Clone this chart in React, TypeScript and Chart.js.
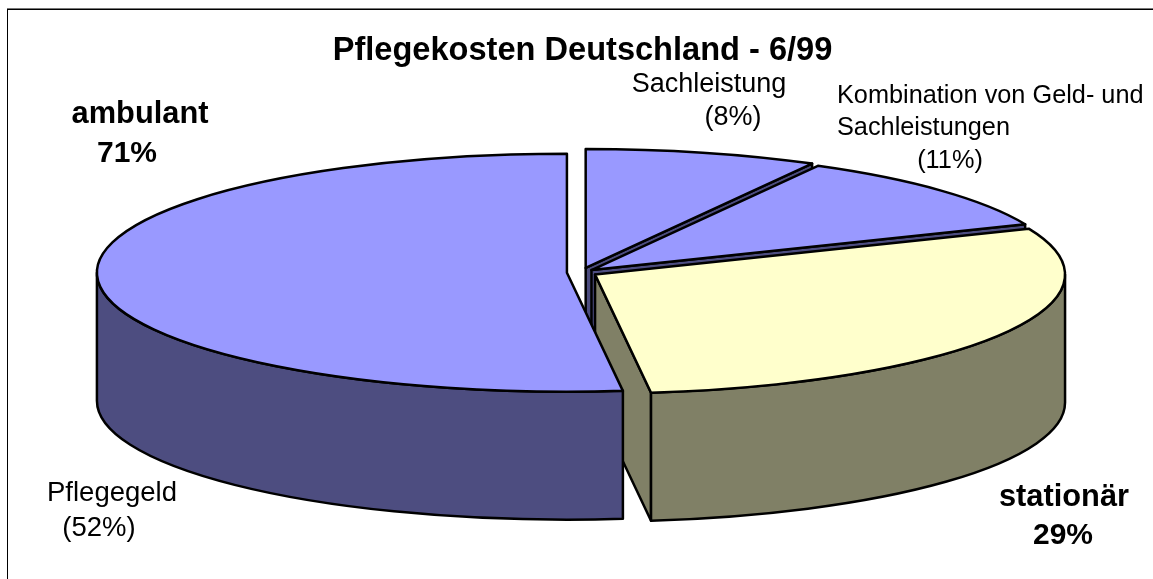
import React, { useEffect, useRef } from "react";
import { Chart, registerables } from "chart.js";

Chart.register(...registerables);

const categories = ["Sachleistung", "Kombination von Geld- und Sachleistungen", "stationär", "Pflegegeld"];
const shares = [8, 10.7, 29.4, 51.9];
const explodeOffsets = [4, 3, 3.46, 3];
const topColors = ["#9999FF", "#9999FF", "#FFFFCC", "#9999FF"];
const wallColors = ["#4D4D80", "#4D4D80", "#808066", "#4D4D80"];
const titleText = "Pflegekosten Deutschland - 6/99";

const FONT = '"Liberation Sans", Arial, sans-serif';
const VIEW = { cx: 581, cy: 272.5, rx: 470, ry: 119, depth: 128 };

const annotations = [
  { lines: ["Sachleistung"], x: 709, y: 85, lh: 33, bold: false, size: 27 },
  { lines: ["(8%)"], x: 733, y: 118, lh: 33, bold: false, size: 27 },
  { lines: ["Kombination von Geld- und"], x: 837, y: 96, lh: 32, bold: false, size: 25.3, align: "left" },
  { lines: ["Sachleistungen"], x: 837, y: 128, lh: 32, bold: false, size: 25.3, align: "left" },
  { lines: ["(11%)"], x: 950, y: 161, lh: 32, bold: false, size: 25.3 },
  { lines: ["ambulant"], x: 140, y: 115, lh: 39, bold: true, size: 30.8 },
  { lines: ["71%"], x: 127, y: 154, lh: 39, bold: true, size: 30 },
  { lines: ["Pflegegeld"], x: 112, y: 493, lh: 35, bold: false, size: 27.5 },
  { lines: ["(52%)"], x: 99, y: 528, lh: 35, bold: false, size: 27.5 },
  { lines: ["stationär"], x: 1064, y: 498, lh: 38, bold: true, size: 30.8 },
  { lines: ["29%"], x: 1063, y: 536, lh: 38, bold: true, size: 30 },
];

const pie3d = {
  id: "pie3d",
  beforeDatasetsDraw(chart: any) {
    const ctx = chart.ctx;
    const arcs = chart.getDatasetMeta(0).data;
    const { rx, ry, depth } = VIEW;
    ctx.save();
    ctx.lineWidth = 2.5;
    ctx.lineJoin = "round";
    ctx.strokeStyle = "#000";
    arcs.forEach((arc: any, i: number) => {
      const a0 = arc.startAngle;
      const a1 = arc.endAngle;
      const mid = (a0 + a1) / 2;
      const frac = arc.options.offset / 100;
      const cx = VIEW.cx + Math.cos(mid) * frac * rx;
      const cy = VIEW.cy + Math.sin(mid) * frac * ry;
      const px = (a: number) => cx + rx * Math.cos(a);
      const py = (a: number) => cy + ry * Math.sin(a);
      ctx.fillStyle = wallColors[i];
      const face = (a: number) => {
        ctx.beginPath();
        ctx.moveTo(cx, cy);
        ctx.lineTo(px(a), py(a));
        ctx.lineTo(px(a), py(a) + depth);
        ctx.lineTo(cx, cy + depth);
        ctx.closePath();
        ctx.fill();
        ctx.stroke();
      };
      if (Math.cos(a1) > 1e-6) face(a1);
      if (-Math.cos(a0) > 1e-6) face(a0);
      const TAU = Math.PI * 2;
      for (const [lo, hi] of [[0, Math.PI], [TAU, TAU + Math.PI], [-TAU, -Math.PI]]) {
        const s = Math.max(a0, lo);
        const e = Math.min(a1, hi);
        if (e > s) {
          ctx.beginPath();
          ctx.ellipse(cx, cy, rx, ry, 0, s, e);
          ctx.lineTo(px(e), py(e) + depth);
          ctx.ellipse(cx, cy + depth, rx, ry, 0, e, s, true);
          ctx.closePath();
          ctx.fill();
          ctx.stroke();
        }
      }
      ctx.fillStyle = topColors[i];
      ctx.beginPath();
      ctx.moveTo(cx, cy);
      ctx.ellipse(cx, cy, rx, ry, 0, a0, a1);
      ctx.closePath();
      ctx.fill();
      ctx.stroke();
    });
    ctx.restore();
    return false;
  },
  afterDraw(chart: any) {
    const ctx = chart.ctx;
    ctx.save();
    ctx.fillStyle = "#000";
    ctx.textBaseline = "middle";
    for (const a of annotations) {
      ctx.font = `${a.bold ? "bold " : ""}${a.size}px ${FONT}`;
      ctx.textAlign = (a.align || "center") as CanvasTextAlign;
      a.lines.forEach((t, k) => ctx.fillText(t, a.x, a.y + k * a.lh));
    }
    ctx.fillStyle = "#777";
    ctx.fillRect(7, 8, 1146, 1);
    ctx.fillStyle = "#000";
    ctx.fillRect(7, 9, 1146, 1);
    ctx.fillRect(7, 9, 1, 570);
    ctx.restore();
  },
};

export default function App() {
  const ref = useRef<HTMLCanvasElement>(null);
  useEffect(() => {
    const chart = new Chart(ref.current!, {
      type: "pie",
      data: {
        labels: categories,
        datasets: [{ data: shares, offset: explodeOffsets, backgroundColor: topColors, borderColor: "#000", borderWidth: 2 }],
      },
      options: {
        animation: false,
        responsive: false,
        layout: { padding: { left: 12 } },
        plugins: {
          legend: { display: false },
          tooltip: { enabled: false },
          title: {
            display: true,
            text: titleText,
            fullSize: false,
            color: "#000",
            font: { family: FONT, size: 32.6, weight: "bold", lineHeight: 1.2 },
            padding: { top: 31, bottom: 5 },
          },
        },
      },
      plugins: [pie3d],
    } as any);
    return () => chart.destroy();
  }, []);
  return (
    <div style={{ position: "absolute", left: 0, top: 0, width: 1153, height: 579, overflow: "hidden", background: "#fff" }}>
      <canvas ref={ref} width={1153} height={579} style={{ display: "block" }} />
    </div>
  );
}
